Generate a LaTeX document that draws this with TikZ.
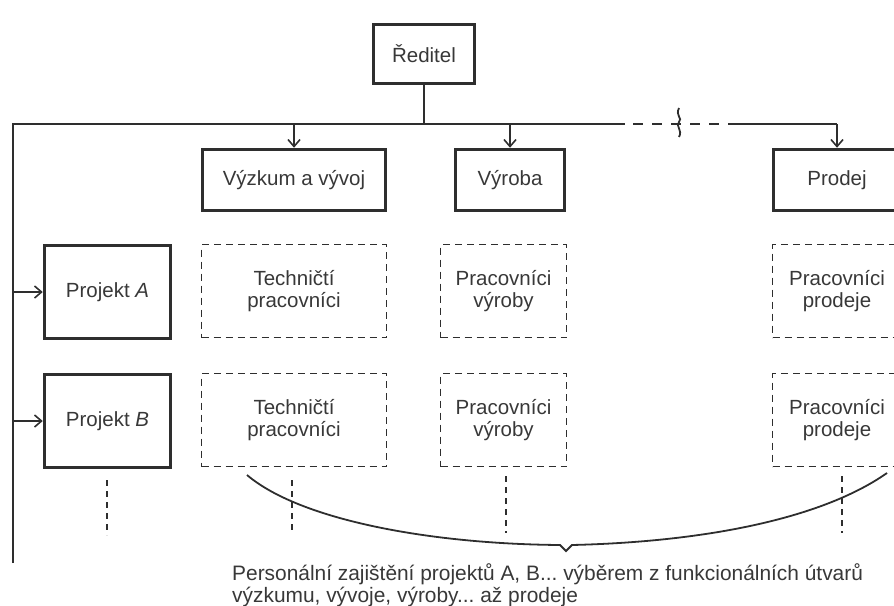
\documentclass[tikz,border=0pt]{standalone}
\usepackage{fontspec}
\setmainfont{Liberation Sans}
\usetikzlibrary{arrows.meta}
\frenchspacing
\definecolor{ink}{HTML}{2E2E2E}
\definecolor{txt}{HTML}{383838}
\tikzset{
  boxfont/.style={font=\fontsize{20.5}{22.5}\selectfont, text=txt, align=center},
  solidbox/.style={draw=ink, line width=3.5pt, boxfont, inner sep=0pt},
  dashbox/.style={draw=ink, line width=1.8pt, dash pattern=on 7pt off 5pt, boxfont, inner sep=0pt},
  link/.style={draw=ink, line width=1.9pt},
  arr/.style={link, -{Straight Barb[length=7pt,width=12pt,line width=1.6pt]}},
  stub/.style={draw=ink, line width=1.9pt, dash pattern=on 6pt off 5pt},
}
\begin{document}
\begin{tikzpicture}[x=1pt,y=-1pt]
\useasboundingbox (0,0) rectangle (894,605);
% top
\node[solidbox, minimum width=101pt, minimum height=59pt] (dir) at (424,54) {Ředitel};
% departments
\node[solidbox, minimum width=183pt, minimum height=61pt] (vyv) at (294,180) {Výzkum a vývoj};
\node[solidbox, minimum width=109pt, minimum height=61pt] (vyr) at (510,180) {Výroba};
\node[solidbox, minimum width=127pt, minimum height=61pt] (pro) at (837,180) {Prodej};
% projects
\node[solidbox, minimum width=126pt, minimum height=93pt] (pa) at (107.5,292) {Projekt \textit{A}};
\node[solidbox, minimum width=126pt, minimum height=93pt] (pb) at (107.5,421) {Projekt \textit{B}};
% staff boxes
\node[dashbox, minimum width=185pt, minimum height=93pt] (ta) at (294,291) {Techničtí\\pracovníci};
\node[dashbox, minimum width=185pt, minimum height=93pt] (tb) at (294,420) {Techničtí\\pracovníci};
\node[dashbox, minimum width=126pt, minimum height=93pt] (va) at (503.5,291) {Pracovníci\\výroby};
\node[dashbox, minimum width=126pt, minimum height=93pt] (vb) at (503.5,420) {Pracovníci\\výroby};
\node[dashbox, minimum width=129pt, minimum height=93pt] (sa) at (837,291) {Pracovníci\\prodeje};
\node[dashbox, minimum width=129pt, minimum height=93pt] (sb) at (837,420) {Pracovníci\\prodeje};
% bus coordinates
\coordinate (busL) at (13,124);
\coordinate (busB) at (13,563);
\coordinate (busD) at (424,124);
\coordinate (d1) at (625,124);
\coordinate (d2) at (733,124);
\coordinate (busR) at (837,124);
\coordinate (brk1) at (679,108);
\coordinate (brk2) at (679,137);
% bus lines
\draw[link] (dir.south) -- (busD);
\draw[link] (busB) -- (busL) -- (d1);
\draw[link, dash pattern=on 10pt off 9pt, dash phase=-8pt] (d1) -- (d2);
\draw[link] (d2) -- (busR);
\draw[arr] (busR) -- (pro.north);
\draw[arr] (vyv.north |- busL) -- (vyv.north);
\draw[arr] (vyr.north |- busL) -- (vyr.north);
\draw[arr] (busL |- pa.west) -- (pa.west);
\draw[arr] (busL |- pb.west) -- (pb.west);
% break mark
\draw[draw=ink, line width=1.8pt] (brk1) .. controls (675,116) and (683,118) .. (679,122) .. controls (675,126) and (683,130) .. (brk2);
% dashed continuation stubs
\coordinate (s1a) at (107,480); \coordinate (s1b) at (107,535);
\coordinate (s2a) at (292,480); \coordinate (s2b) at (292,532);
\coordinate (s3a) at (506,476); \coordinate (s3b) at (506,533);
\coordinate (s4a) at (842,476); \coordinate (s4b) at (842,533);
\draw[stub] (s1a) -- (s1b);
\draw[stub] (s2a) -- (s2b);
\draw[stub] (s3a) -- (s3b);
\draw[stub] (s4a) -- (s4b);
% brace
\coordinate (brL) at (247,475);
\coordinate (brT) at (566,551);
\coordinate (brR) at (887,473);
\draw[draw=ink, line width=1.8pt] (brL) .. controls (300,520) and (430,544) .. (560,545) -- (brT) -- (572,545) .. controls (700,542) and (820,520) .. (brR);
% caption
\node[anchor=north west, inner sep=0pt, align=left, text=txt, font=\fontsize{20.9}{22}\selectfont] (cap) at (232,563)
  {Personální zajištění projektů A, B... výběrem z funkcionálních útvarů\\výzkumu, vývoje, výroby... až prodeje};
\end{tikzpicture}
\end{document}
